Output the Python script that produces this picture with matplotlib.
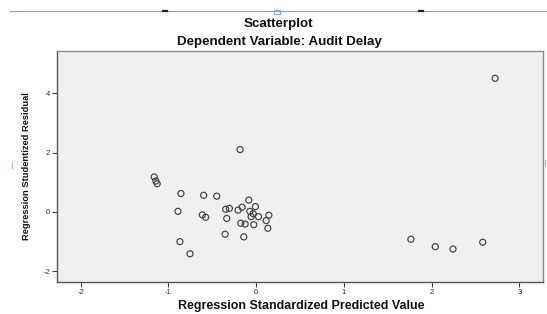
import matplotlib
matplotlib.use("Agg")
import matplotlib.pyplot as plt
from matplotlib.lines import Line2D
from matplotlib.patches import Rectangle

title = "Scatterplot"
subtitle = "Dependent Variable: Audit Delay"
x_label = "Regression Standardized Predicted Value"
y_label = "Regression Studentized Residual"

pred = [-0.183, -1.162, -1.143, -1.128, -0.857, -0.598, -0.449, -0.084,
        -0.891, -0.613, -0.575, -0.347, -0.305, -0.335, -0.206, -0.160,
        -0.072, -0.008, -0.034, -0.057, 0.027, 0.145, 0.114, 0.133,
        -0.175, -0.126, -0.027, -0.354, -0.141, -0.869, -0.754,
        2.724, 1.764, 2.042, 2.244, 2.583]
resid = [2.10, 1.18, 1.04, 0.95, 0.62, 0.56, 0.53, 0.40,
         0.02, -0.10, -0.18, 0.09, 0.12, -0.22, 0.06, 0.16,
         0.02, 0.18, -0.06, -0.16, -0.16, -0.11, -0.29, -0.55,
         -0.38, -0.41, -0.43, -0.75, -0.84, -1.00, -1.41,
         4.50, -0.92, -1.17, -1.25, -1.02]

x_ticks = [-2, -1, 0, 1, 2, 3]
y_ticks = [-2, 0, 2, 4]

plt.rcParams['font.family'] = ['Liberation Sans', 'DejaVu Sans']

W, H = 547, 314
fig = plt.figure(figsize=(W / 100, H / 100), dpi=100)
fig.patch.set_facecolor('white')

L, R, T, B = 57, 543, 51, 282
ax = fig.add_axes([L / W, 1 - B / H, (R - L) / W, (B - T) / H])
ax.set_facecolor('#f0f0f0')

ax.scatter(pred, resid, s=19, facecolors='none', edgecolors='#404040',
           linewidths=0.85, zorder=3)

ax.set_xlim(-2.27, 3.27)
ax.set_ylim(-2.36, 5.42)
ax.set_xticks(x_ticks)
ax.set_yticks(y_ticks)
ax.set_xticklabels([str(v) for v in x_ticks])
ax.set_yticklabels([str(v) for v in y_ticks])
ax.tick_params(axis='both', labelsize=5.5, length=3.5, width=0.8,
               color='#404040', labelcolor='#333333', pad=1.5)

for side in ['left', 'bottom']:
    ax.spines[side].set_color('#555555')
    ax.spines[side].set_linewidth(1.0)
for side in ['top', 'right']:
    ax.spines[side].set_color('#8a8a8a')
    ax.spines[side].set_linewidth(1.0)

fig.text(278 / W, 1 - 24.5 / H, title, ha='center', va='center',
         fontsize=9.6, fontweight='bold', color='#111111')
fig.text(279 / W, 1 - 42.5 / H, subtitle, ha='center', va='center',
         fontsize=9.6, fontweight='bold', color='#111111')
fig.text(301 / W, 1 - 305.5 / H, x_label, ha='center', va='center',
         fontsize=9.0, fontweight='bold', color='#111111')
fig.text(27 / W, 1 - 166 / H, y_label, ha='center', va='center',
         rotation=90, fontsize=6.7, fontweight='bold', color='#111111')

# decorative frame line at top (document selection frame)
fig.add_artist(Line2D([10 / W, 1.0], [1 - 11 / H, 1 - 11 / H],
                      transform=fig.transFigure, color='#7fa6d4', lw=0.8))
for mx in (165, 421):
    fig.add_artist(Line2D([(mx - 2) / W, (mx + 2) / W], [1 - 10.5 / H, 1 - 10.5 / H],
                          transform=fig.transFigure, color='#222222', lw=1.6))
fig.add_artist(Rectangle((274 / W, 1 - 13.5 / H), 6 / W, 4 / H,
                         transform=fig.transFigure, facecolor='white',
                         edgecolor='#7fa6d4', lw=0.7))
fig.add_artist(Line2D([12 / W, 12 / W], [1 - 168 / H, 1 - 162 / H],
                      transform=fig.transFigure, color='#9fbde0', lw=0.8))
fig.add_artist(Line2D([545 / W, 545 / W], [1 - 166 / H, 1 - 160 / H],
                      transform=fig.transFigure, color='#9fbde0', lw=0.8))

fig.savefig('out.png', dpi=100)
